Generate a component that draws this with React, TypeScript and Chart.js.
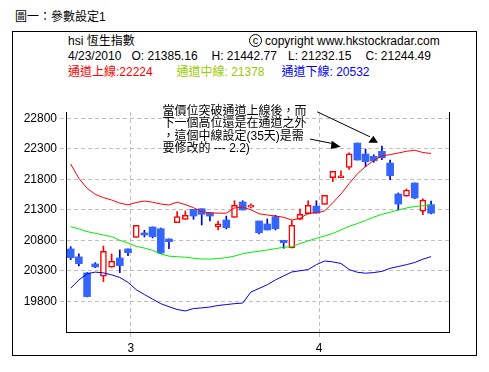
import React, { useEffect, useRef } from "react";
import { Chart, registerables } from "chart.js";
Chart.register(...registerables);

// ---- data ----
const dates = [
  "2/17", "2/18", "2/19", "2/22", "2/23", "2/24", "2/25", "2/26",
  "3/1", "3/2", "3/3", "3/4", "3/5", "3/8", "3/9", "3/10", "3/11", "3/12", "3/15", "3/16", "3/17", "3/18", "3/19", "3/22", "3/23", "3/24", "3/25", "3/26", "3/29", "3/30", "3/31",
  "4/1", "4/7", "4/8", "4/9", "4/12", "4/13", "4/14", "4/15", "4/16", "4/19", "4/20", "4/21", "4/22", "4/23",
];
const opens = [20658, 20527, 20264, 20412, 20210, 20358, 20510, 20658, 20849, 20920, 21018, 20990, 20822, 21089, 21144, 21308, 21318, 21252, 21018, 21133, 21177, 21428, 21345, 21117, 21067, 21187, 20800, 20674, 21144, 21236, 21361, 21390, 21826, 21826, 21997, 22395, 22215, 22177, 22259, 22067, 21559, 21522, 21740, 21276, 21385.16];
const highs = [20695, 20576, 20269, 20433, 20707, 20576, 20641, 20658, 21046, 20964, 21018, 21002, 20822, 21269, 21281, 21308, 21318, 21252, 21117, 21198, 21449, 21449, 21400, 21117, 21150, 21210, 20800, 21122, 21314, 21449, 21449, 21538, 21931, 21941, 22236, 22395, 22297, 22203, 22346, 22117, 21576, 21641, 21740, 21482, 21442.77];
const lows = [20482, 20379, 19870, 20351, 20122, 20358, 20269, 20548, 20849, 20854, 20838, 20580, 20662, 21089, 21144, 21144, 21051, 21117, 20969, 20986, 21177, 21297, 21330, 20903, 20969, 20969, 20669, 20674, 21144, 21226, 21248, 21390, 21761, 21826, 21964, 22117, 22007, 22079, 22121, 21793, 21297, 21522, 21482, 21220, 21232.15];
const closes = [20515, 20417, 19876, 20363, 20620, 20456, 20384, 20597, 21046, 20887, 20859, 20590, 20777, 21187, 21210, 21198, 21226, 21198, 21072, 21007, 21374, 21297, 21374, 20925, 20969, 20990, 20761, 21046, 21226, 21374, 21248, 21538, 21931, 21859, 22220, 22117, 22089, 22105, 22154, 21859, 21395, 21625, 21494, 21461, 21244.49];
const upperChannel = [22051, 21816, 21653, 21554, 21500, 21461, 21410, 21380, 21420, 21444, 21425, 21395, 21379, 21425, 21385, 21335, 21270, 21250, 21245, 21245, 21330, 21345, 21300, 21235, 21215, 21198, 21177, 21133, 21161, 21243, 21250, 21280, 21415, 21560, 21730, 21890, 22010, 22110, 22185, 22205, 22232, 22260, 22278, 22240, 22224];
const middleChannel = [21024, 20986, 20942, 20915, 20887, 20860, 20800, 20755, 20700, 20672, 20635, 20575, 20540, 20530, 20522, 20505, 20492, 20492, 20500, 20515, 20540, 20580, 20603, 20620, 20641, 20663, 20685, 20695, 20745, 20790, 20832, 20870, 20912, 20970, 21030, 21075, 21125, 21180, 21225, 21260, 21297, 21330, 21355, 21365, 21378];
const lowerChannel = [20013, 20149, 20250, 20278, 20265, 20233, 20190, 20110, 19990, 19910, 19835, 19760, 19710, 19665, 19640, 19680, 19690, 19705, 19730, 19745, 19760, 19770, 19950, 20010, 20070, 20150, 20215, 20280, 20300, 20320, 20400, 20460, 20445, 20420, 20320, 20275, 20260, 20270, 20290, 20340, 20370, 20400, 20435, 20490, 20532];
const yTickValues = [19800, 20300, 20800, 21300, 21800, 22300, 22800];
const lastDate = "4/23/2010";
const titleText = "圖一：參數設定1";
const stockName = "hsi 恆生指數";
const copyrightText = "copyright www.hkstockradar.com";
const noteLines = ["當價位突破通道上線後，而", "下一個高位還是在通道之外", "，這個中線設定(35天)是需", "要修改的 --- 2.2)"];
// arrows in data space: [index, value]
const arrowLines = [
  [[30.1, 22908], [36.54, 22498]],
  [[29.22, 22461], [31.87, 22390]],
];
const arrowHeads = [
  [[36.95, 22515], [36.34, 22400], [37.52, 22400]],
  [[31.87, 22433], [31.75, 22297], [32.97, 22334]],
];

const LATIN = '"Liberation Sans", Arial, "Noto Sans CJK TC", sans-serif';

export default function App() {
  const ref = useRef<HTMLCanvasElement>(null);
  useEffect(() => {
    const canvas = ref.current!;
    const idx = dates.map((_, i) => i);
    const up = idx.filter((i) => closes[i] >= opens[i]);
    const down = idx.filter((i) => closes[i] < opens[i]);
    const monthTicks: { value: number; label: string }[] = [];
    for (let i = 1; i < dates.length; i++) {
      const m = dates[i].split("/")[0];
      if (m !== dates[i - 1].split("/")[0]) monthTicks.push({ value: i - 0.66, label: m });
    }
    const arrowPlugin = {
      id: "arrows",
      afterDraw(chart: any) {
        const { ctx, scales } = chart;
        const px = (p: number[]) => [scales.x.getPixelForValue(p[0]), scales.y.getPixelForValue(p[1])];
        ctx.save();
        ctx.strokeStyle = "#000";
        ctx.fillStyle = "#000";
        ctx.lineWidth = 1;
        arrowLines.forEach(([a, b]) => {
          const [x1, y1] = px(a);
          const [x2, y2] = px(b);
          ctx.beginPath();
          ctx.moveTo(x1, y1);
          ctx.lineTo(x2, y2);
          ctx.stroke();
        });
        arrowHeads.forEach((tri) => {
          ctx.beginPath();
          tri.forEach((p, k) => {
            const [x, y] = px(p);
            if (k === 0) ctx.moveTo(x, y);
            else ctx.lineTo(x, y);
          });
          ctx.closePath();
          ctx.fill();
        });
        ctx.restore();
      },
    };
    const yMin = 19295;
    const yMax = 22905;
    const chart = new Chart(canvas, {
      type: "bar",
      data: {
        datasets: [
          { type: "line", data: idx.map((i) => ({ x: i, y: upperChannel[i] })), borderColor: "#ff0000", borderWidth: 1, pointRadius: 0, order: 0 },
          { type: "line", data: idx.map((i) => ({ x: i, y: middleChannel[i] })), borderColor: "#00ee00", borderWidth: 1, pointRadius: 0, order: 0 },
          { type: "line", data: idx.map((i) => ({ x: i, y: lowerChannel[i] })), borderColor: "#0000ee", borderWidth: 1, pointRadius: 0, order: 0 },
          {
            type: "bar",
            data: idx.map((i) => ({ x: i, y: [lows[i], highs[i]] })),
            backgroundColor: idx.map((i) => (closes[i] >= opens[i] ? "#ff0000" : "#0000dd")),
            barThickness: 1,
            grouped: false,
            order: 2,
          },
          {
            type: "bar",
            data: up.map((i) => ({ x: i, y: [opens[i], closes[i]] })),
            backgroundColor: "#ffffff",
            borderColor: "#ff0000",
            borderWidth: 1.5,
            borderSkipped: false,
            barThickness: 6,
            grouped: false,
            order: 1,
          },
          {
            type: "bar",
            data: down.map((i) => ({ x: i, y: [opens[i], closes[i]] })),
            backgroundColor: "#3366ff",
            borderWidth: 0,
            barThickness: 7,
            grouped: false,
            order: 1,
          },
        ],
      },
      options: {
        animation: false,
        responsive: false,
        maintainAspectRatio: false,
        layout: { padding: { left: 0, top: 112, right: 40, bottom: 10 } },
        plugins: { legend: { display: false }, tooltip: { enabled: false } },
        scales: {
          x: {
            type: "linear",
            min: -0.57,
            max: 46.19,
            offset: false,
            afterBuildTicks: (s: any) => {
              s.ticks = monthTicks.map((t) => ({ value: t.value }));
            },
            afterFit: (s: any) => {
              s.height = 30;
            },
            ticks: {
              autoSkip: false,
              maxRotation: 0,
              padding: 1,
              color: "#000",
              font: { family: LATIN, size: 12 },
              callback: (v: any) => {
                const t = monthTicks.find((m) => Math.abs(m.value - v) < 1e-6);
                return t ? t.label : "";
              },
            },
            grid: { offset: false, color: "#c0c0c0", tickLength: 8, tickColor: "#c0c0c0", tickBorderDash: [4, 3] },
            border: { display: true, color: "#000", width: 1, dash: [4, 3] },
          },
          y: {
            type: "linear",
            min: yMin,
            max: yMax,
            afterBuildTicks: (s: any) => {
              s.ticks = yTickValues.map((v) => ({ value: v }));
            },
            afterFit: (s: any) => {
              s.width = 66;
            },
            ticks: {
              padding: 3,
              color: "#000",
              font: { family: LATIN, size: 12 },
              callback: (v: any) => String(v),
            },
            grid: { offset: false, color: "#c0c0c0", tickLength: 6, tickColor: "#c0c0c0", tickBorderDash: [4, 3] },
            border: { display: true, color: "#000", width: 1, dash: [4, 3] },
          },
          y2: {
            type: "linear",
            position: "right",
            min: yMin,
            max: yMax,
            ticks: { display: false },
            grid: { display: false, drawTicks: false },
            border: { display: true, color: "#000", width: 1 },
            afterFit: (s: any) => {
              s.width = 0;
            },
          },
        },
      },
      plugins: [arrowPlugin],
    } as any);
    return () => chart.destroy();
  }, []);

  const n = closes.length - 1;
  const txt = (left: number, top: number, color = "#000", size = 12): React.CSSProperties => ({
    position: "absolute",
    left,
    top,
    color,
    fontSize: size,
    lineHeight: "12px",
    whiteSpace: "nowrap",
    fontFamily: LATIN,
  });
  return (
    <div style={{ position: "absolute", left: 0, top: 0, width: 489, height: 372, background: "#fff", overflow: "hidden" }}>
      <div style={txt(15, 11, "#000", 12)}>{titleText}</div>
      <div style={{ position: "absolute", left: 12, top: 31, width: 465, height: 325, border: "1px solid #000", boxSizing: "border-box" }} />
      <div style={txt(68, 35)}>{stockName}</div>
      <div
        style={{
          position: "absolute",
          left: 249,
          top: 34,
          width: 13,
          height: 13,
          border: "1px solid #000",
          borderRadius: "50%",
          boxSizing: "border-box",
          fontFamily: LATIN,
          fontSize: 11,
          lineHeight: "10px",
          textAlign: "center",
        }}
      >
        c
      </div>
      <div style={txt(265, 35)}>{copyrightText}</div>
      <div style={txt(68, 50)}>{lastDate}</div>
      <div style={txt(131.5, 50)}>{"O: " + opens[n].toFixed(2)}</div>
      <div style={txt(211.5, 50)}>{"H: " + highs[n].toFixed(2)}</div>
      <div style={txt(288, 50)}>{"L: " + lows[n].toFixed(2)}</div>
      <div style={txt(365.5, 50)}>{"C: " + closes[n].toFixed(2)}</div>
      <div style={txt(68, 66, "#ff0000")}>{"通道上線:" + upperChannel[n]}</div>
      <div style={txt(176.5, 66, "#99cc00")}>{"通道中線: " + middleChannel[n]}</div>
      <div style={txt(281.5, 66, "#0000ff")}>{"通道下線: " + lowerChannel[n]}</div>
      <canvas ref={ref} width={489} height={372} style={{ position: "absolute", left: 0, top: 0, width: 489, height: 372 }} />
      <div style={{ position: "absolute", left: 162.5, top: 104.5, fontSize: 12, lineHeight: "12.5px", fontFamily: LATIN, whiteSpace: "nowrap", color: "#000" }}>
        {noteLines.map((l, i) => (
          <div key={i}>{l}</div>
        ))}
      </div>
    </div>
  );
}
